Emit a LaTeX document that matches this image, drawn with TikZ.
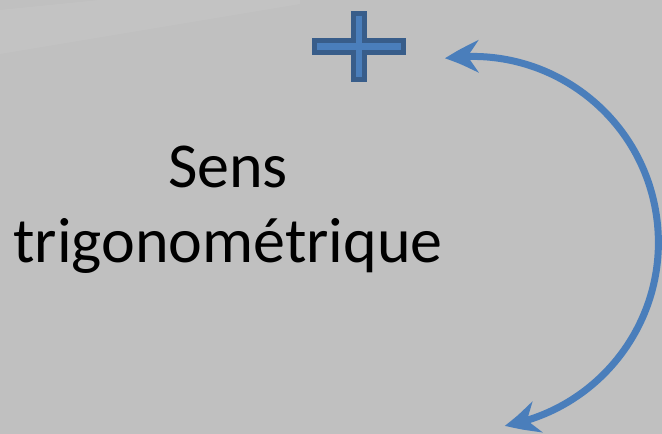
\documentclass[tikz,border=0pt]{standalone}
\usepackage{fontspec}
\setmainfont{Carlito}
\usetikzlibrary{arrows.meta}
\usetikzlibrary{bending}
\usetikzlibrary{positioning}
\definecolor{slidegray}{RGB}{192,192,192}
\definecolor{signblue}{RGB}{74,126,187}
\definecolor{signedge}{RGB}{56,93,138}
\tikzstyle{caption} = [align=center, font=\fontsize{64}{75}\selectfont, text=black]
\tikzstyle{plussign} = [draw=signedge, fill=signblue, line width=5pt, line join=miter]
\tikzstyle{turn} = [draw=signblue, line width=7pt, <->]

\begin{document}
\begin{tikzpicture}[x=1pt, y=1pt, >={Stealth[length=34pt,width=32pt,inset=11pt,bend]}]
    % We start by painting the slide background
    \fill[slidegray] (0,0) rectangle (662,434);
    \fill[white, opacity=0.06] (0,424) -- (0,380) -- (300,430) -- (300,434) -- (100,434) -- cycle;
    \useasboundingbox (0,0) rectangle (662,434);

    % The label and the plus sign
    \node [caption] (label) at (228,224) {Sens\\trigonométrique};
    \coordinate (plus) at (359,387.5);
    \draw [plussign, shift={(plus)}] (-44.5,6) -- (-5.5,6) -- (-5.5,33.25) -- (5.5,33.25)
        -- (5.5,6) -- (44.5,6) -- (44.5,-6) -- (5.5,-6) -- (5.5,-33.25) -- (-5.5,-33.25)
        -- (-5.5,-6) -- (-44.5,-6) -- cycle;

    % Then the turning arrow on the right
    \coordinate (arctop) at (444.9,375.5);
    \draw [turn] (arctop) arc [start angle=98.5, end angle=-80, radius=186];
\end{tikzpicture}
\end{document}
